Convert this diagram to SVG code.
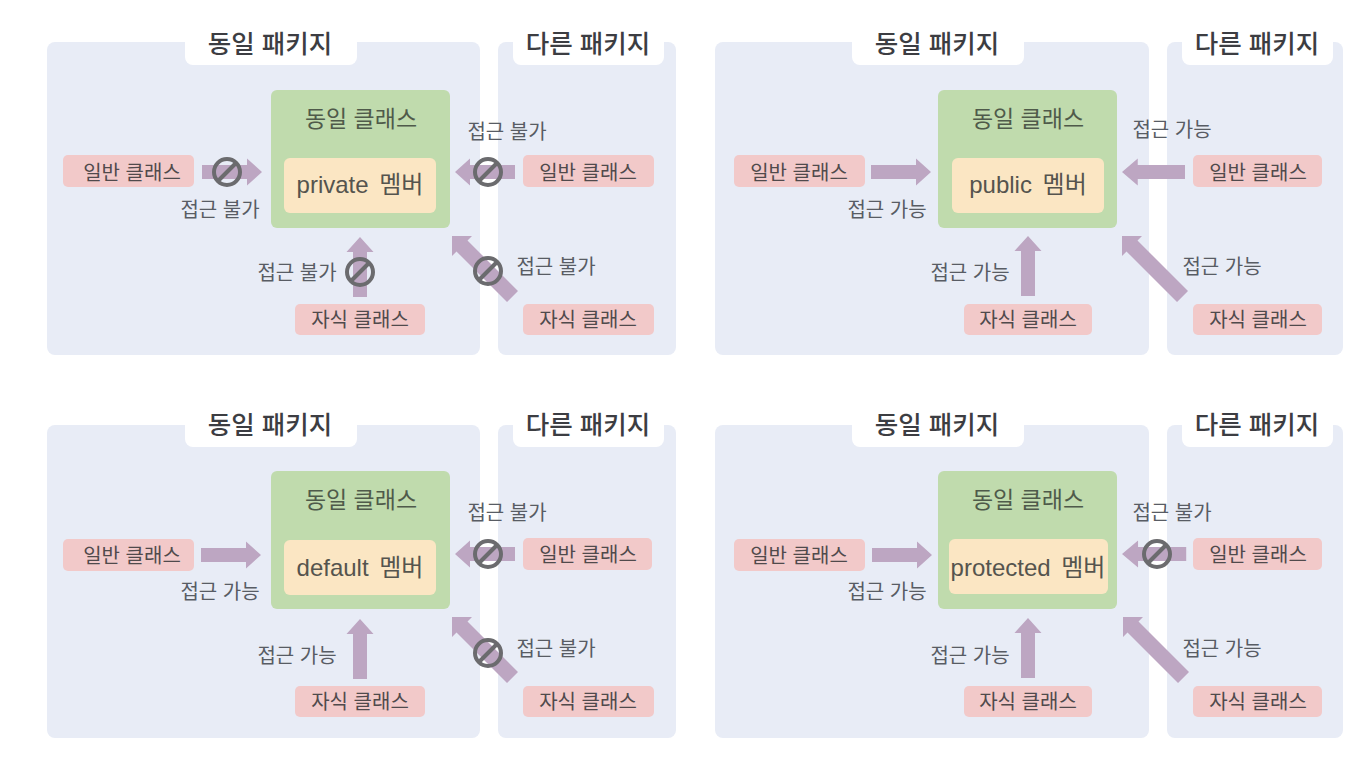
<svg xmlns="http://www.w3.org/2000/svg" width="1368" height="774" viewBox="0 0 1368 774">
<style>
text{font-family:"Liberation Sans","Noto Sans CJK KR",sans-serif;text-anchor:middle;fill:#4b4d52}
.pkg{fill:#e8ecf6}.tab{fill:#fff}
.cls{fill:#c0dbad}.mem{fill:#fbe6c3}.pink{fill:#f2c9c9}
.t{font-size:25.5px;font-weight:500;fill:#3c3d42}
.h{font-size:23px;fill:#4f5a4a}
.m{font-size:24px;word-spacing:4px;fill:#55544e}
.p{font-size:20px;fill:#504a4c}
.a{font-size:20px;fill:#585c64}
.ar{fill:#bda6c2}
.no{fill:none;stroke:#6b6b6e;stroke-width:4}
</style>
<defs>
<polygon id="arrow" class="ar" points="0,0 -15,-13.5 -15,-7 -60,-7 -60,7 -15,7 -15,13.5"/>
<polygon id="diag" class="ar" points="0,0 20,0 15.5,4.5 66,55 55,66 4.5,15.5 0,20"/>
<g id="ban"><circle class="no" r="13"/><line class="no" x1="-9" y1="9" x2="9" y2="-9"/></g>
</defs>
<rect width="1368" height="774" fill="#fff"/>

<g id="panel-private">
<g id="a-same"><rect class="pkg" x="47" y="42" width="433" height="313" rx="8"/><rect class="tab" x="185" y="30" width="172" height="35" rx="8"/><text class="t" x="270" y="53">동일 패키지</text></g>
<g id="a-other"><rect class="pkg" x="498" y="42" width="178" height="313" rx="8"/><rect class="tab" x="513" y="30" width="151" height="35" rx="8"/><text class="t" x="588" y="53">다른 패키지</text></g>
<g id="a-class"><rect class="cls" x="271" y="90" width="179" height="138" rx="6"/><text class="h" x="361" y="127">동일 클래스</text><rect class="mem" x="284" y="158" width="152" height="55" rx="6"/><text class="m" x="360" y="193">private 멤버</text></g>
<g id="a-n1"><rect class="pink" x="63" y="155" width="131" height="32" rx="5"/><text class="p" x="132" y="180">일반 클래스</text></g>
<g id="a-n2"><rect class="pink" x="523" y="155" width="131" height="32" rx="5"/><text class="p" x="588" y="180">일반 클래스</text></g>
<g id="a-n3"><rect class="pink" x="295" y="304" width="130" height="31" rx="5"/><text class="p" x="360" y="327">자식 클래스</text></g>
<g id="a-n4"><rect class="pink" x="523" y="304" width="131" height="31" rx="5"/><text class="p" x="588" y="327">자식 클래스</text></g>
<g id="a-connectors">
<use href="#arrow" transform="translate(262,172)"/>
<use href="#arrow" transform="translate(455,172) rotate(180)"/>
<use href="#arrow" transform="translate(360,237) rotate(-90)"/>
<use href="#diag" transform="translate(452,236)"/>
<use href="#ban" transform="translate(227,172)"/>
<use href="#ban" transform="translate(488,172)"/>
<use href="#ban" transform="translate(360,272)"/>
<use href="#ban" transform="translate(488,271)"/>
<text class="a" x="220" y="217">접근 불가</text>
<text class="a" x="507" y="139">접근 불가</text>
<text class="a" x="297" y="280">접근 불가</text>
<text class="a" x="556" y="274">접근 불가</text>
</g>
</g>

<g id="panel-public">
<g id="b-same"><rect class="pkg" x="715" y="42" width="434" height="313" rx="8"/><rect class="tab" x="852" y="30" width="172" height="35" rx="8"/><text class="t" x="937" y="53">동일 패키지</text></g>
<g id="b-other"><rect class="pkg" x="1167" y="42" width="176" height="313" rx="8"/><rect class="tab" x="1182" y="30" width="151" height="35" rx="8"/><text class="t" x="1257" y="53">다른 패키지</text></g>
<g id="b-class"><rect class="cls" x="938" y="90" width="179" height="138" rx="6"/><text class="h" x="1028" y="127">동일 클래스</text><rect class="mem" x="952" y="158" width="152" height="55" rx="6"/><text class="m" x="1028" y="193">public 멤버</text></g>
<g id="b-n1"><rect class="pink" x="734" y="155" width="131" height="32" rx="5"/><text class="p" x="799" y="180">일반 클래스</text></g>
<g id="b-n2"><rect class="pink" x="1193" y="155" width="129" height="32" rx="5"/><text class="p" x="1258" y="180">일반 클래스</text></g>
<g id="b-n3"><rect class="pink" x="964" y="304" width="128" height="31" rx="5"/><text class="p" x="1028" y="327">자식 클래스</text></g>
<g id="b-n4"><rect class="pink" x="1193" y="304" width="129" height="31" rx="5"/><text class="p" x="1258" y="327">자식 클래스</text></g>
<g id="b-connectors">
<use href="#arrow" transform="translate(931,172)"/>
<use href="#arrow" transform="translate(1122,172) rotate(180) scale(1.05,1)"/>
<use href="#arrow" transform="translate(1028,236) rotate(-90)"/>
<use href="#diag" transform="translate(1122,236)"/>
<text class="a" x="887" y="217">접근 가능</text>
<text class="a" x="1172" y="137">접근 가능</text>
<text class="a" x="970" y="280">접근 가능</text>
<text class="a" x="1222" y="274">접근 가능</text>
</g>
</g>

<g id="panel-default">
<g id="c-same"><rect class="pkg" x="47" y="425" width="433" height="313" rx="8"/><rect class="tab" x="185" y="412" width="172" height="35" rx="8"/><text class="t" x="270" y="434">동일 패키지</text></g>
<g id="c-other"><rect class="pkg" x="498" y="425" width="178" height="313" rx="8"/><rect class="tab" x="513" y="412" width="151" height="35" rx="8"/><text class="t" x="588" y="434">다른 패키지</text></g>
<g id="c-class"><rect class="cls" x="271" y="471" width="179" height="138" rx="6"/><text class="h" x="361" y="508">동일 클래스</text><rect class="mem" x="284" y="540" width="152" height="55" rx="6"/><text class="m" x="360" y="576">default 멤버</text></g>
<g id="c-n1"><rect class="pink" x="63" y="539" width="131" height="32" rx="5"/><text class="p" x="132" y="563">일반 클래스</text></g>
<g id="c-n2"><rect class="pink" x="523" y="538" width="129" height="32" rx="5"/><text class="p" x="588" y="562">일반 클래스</text></g>
<g id="c-n3"><rect class="pink" x="295" y="686" width="130" height="31" rx="5"/><text class="p" x="360" y="709">자식 클래스</text></g>
<g id="c-n4"><rect class="pink" x="523" y="686" width="131" height="31" rx="5"/><text class="p" x="588" y="709">자식 클래스</text></g>
<g id="c-connectors">
<use href="#arrow" transform="translate(261,555)"/>
<use href="#arrow" transform="translate(455,554) rotate(180)"/>
<use href="#arrow" transform="translate(360,619) rotate(-90)"/>
<use href="#diag" transform="translate(452,617)"/>
<use href="#ban" transform="translate(488,554)"/>
<use href="#ban" transform="translate(488,653)"/>
<text class="a" x="220" y="599">접근 가능</text>
<text class="a" x="507" y="520">접근 불가</text>
<text class="a" x="297" y="663">접근 가능</text>
<text class="a" x="556" y="656">접근 불가</text>
</g>
</g>

<g id="panel-protected">
<g id="d-same"><rect class="pkg" x="715" y="425" width="434" height="313" rx="8"/><rect class="tab" x="852" y="412" width="172" height="35" rx="8"/><text class="t" x="937" y="434">동일 패키지</text></g>
<g id="d-other"><rect class="pkg" x="1167" y="425" width="176" height="313" rx="8"/><rect class="tab" x="1182" y="412" width="151" height="35" rx="8"/><text class="t" x="1257" y="434">다른 패키지</text></g>
<g id="d-class"><rect class="cls" x="938" y="471" width="179" height="138" rx="6"/><text class="h" x="1028" y="508">동일 클래스</text><rect class="mem" x="949" y="539" width="159" height="55" rx="6"/><text class="m" x="1028" y="576">protected 멤버</text></g>
<g id="d-n1"><rect class="pink" x="734" y="539" width="131" height="32" rx="5"/><text class="p" x="799" y="563">일반 클래스</text></g>
<g id="d-n2"><rect class="pink" x="1193" y="538" width="129" height="32" rx="5"/><text class="p" x="1258" y="562">일반 클래스</text></g>
<g id="d-n3"><rect class="pink" x="964" y="686" width="128" height="31" rx="5"/><text class="p" x="1028" y="709">자식 클래스</text></g>
<g id="d-n4"><rect class="pink" x="1193" y="686" width="129" height="31" rx="5"/><text class="p" x="1258" y="709">자식 클래스</text></g>
<g id="d-connectors">
<use href="#arrow" transform="translate(932,555)"/>
<use href="#arrow" transform="translate(1122,554) rotate(180) scale(1.07,1)"/>
<use href="#arrow" transform="translate(1028,618) rotate(-90)"/>
<use href="#diag" transform="translate(1123,617)"/>
<use href="#ban" transform="translate(1157,554)"/>
<text class="a" x="887" y="599">접근 가능</text>
<text class="a" x="1172" y="520">접근 불가</text>
<text class="a" x="970" y="663">접근 가능</text>
<text class="a" x="1222" y="656">접근 가능</text>
</g>
</g>
</svg>
